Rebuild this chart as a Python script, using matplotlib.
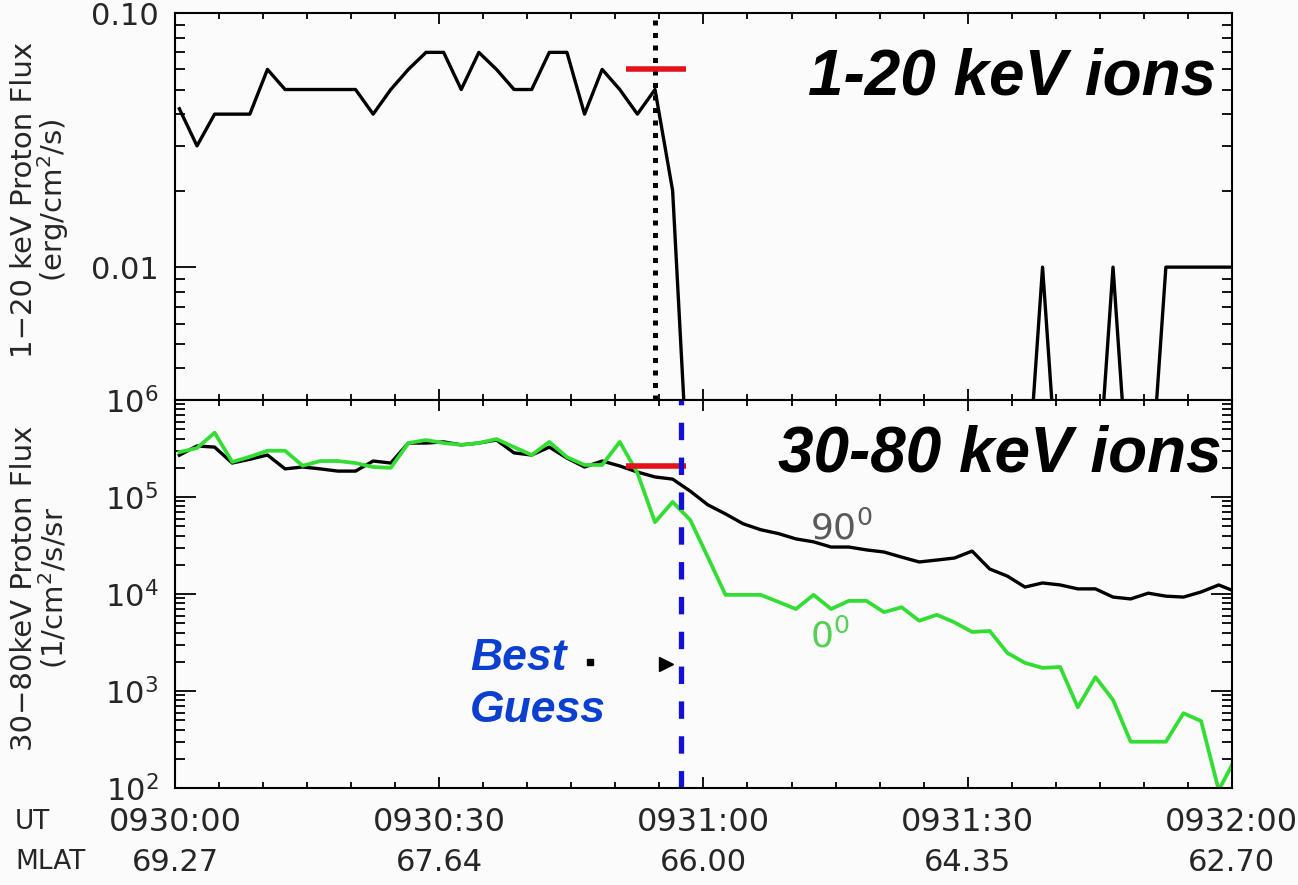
import matplotlib
matplotlib.use("Agg")
import matplotlib.pyplot as plt
from matplotlib.ticker import FixedLocator, FixedFormatter, LogLocator, NullFormatter, MultipleLocator

plt.rcParams['font.family'] = ['DejaVu Sans']
plt.rcParams['mathtext.fontset'] = 'dejavusans'

# seconds after 09:30:00 UT (2 s samples)
sample_t = [0.5, 2.5, 4.5, 6.5, 8.5, 10.5, 12.5, 14.5, 16.5, 18.5,
            20.5, 22.5, 24.5, 26.5, 28.5, 30.5, 32.5, 34.5, 36.5, 38.5,
            40.5, 42.5, 44.5, 46.5, 48.5, 50.5, 52.5, 54.5, 56.5, 58.5,
            60.5, 62.5, 64.5, 66.5, 68.5, 70.5, 72.5, 74.5, 76.5, 78.5,
            80.5, 82.5, 84.5, 86.5, 88.5, 90.5, 92.5, 94.5, 96.5, 98.5,
            100.5, 102.5, 104.5, 106.5, 108.5, 110.5, 112.5, 114.5, 116.5, 118.5,
            120.5]

# 1-20 keV proton energy flux (erg/cm2/s); 0.001 = below range
low_flux = [0.042, 0.03, 0.04, 0.04, 0.04, 0.06, 0.05, 0.05, 0.05, 0.05,
            0.05, 0.04, 0.05, 0.06, 0.07, 0.07, 0.05, 0.07, 0.06, 0.05,
            0.05, 0.07, 0.07, 0.04, 0.06, 0.05, 0.04, 0.05, 0.02, 0.001,
            0.001, 0.001, 0.001, 0.001, 0.001, 0.001, 0.001, 0.001, 0.001, 0.001,
            0.001, 0.001, 0.001, 0.001, 0.001, 0.001, 0.001, 0.001, 0.001, 0.01,
            0.001, 0.001, 0.001, 0.01, 0.001, 0.001, 0.01, 0.01, 0.01, 0.01,
            0.01]

# 30-80 keV proton flux, 90 deg and 0 deg pitch angle
flux_90 = [2.7e5, 3.36e5, 3.27e5, 2.24e5, 2.45e5, 2.71e5, 1.95e5, 2.04e5, 1.95e5, 1.85e5,
           1.85e5, 2.35e5, 2.24e5, 3.6e5, 3.6e5, 3.7e5, 3.45e5, 3.6e5, 3.87e5, 2.85e5,
           2.71e5, 3.27e5, 2.52e5, 2.04e5, 2.35e5, 2.09e5, 1.81e5, 1.61e5, 1.53e5, 1.15e5,
           8.3e4, 6.7e4, 5.3e4, 4.6e4, 4.2e4, 3.7e4, 3.45e4, 3.05e4, 3.05e4, 2.85e4,
           2.71e4, 2.4e4, 2.14e4, 2.24e4, 2.35e4, 2.77e4, 1.81e4, 1.53e4, 1.18e4, 1.3e4,
           1.24e4, 1.13e4, 1.13e4, 9.3e3, 8.9e3, 1.02e4, 9.5e3, 9.3e3, 1.05e4, 1.24e4,
           1.05e4]
flux_0 = [2.9e5, 3.2e5, 4.6e5, 2.3e5, 2.6e5, 3.0e5, 3.0e5, 2.1e5, 2.35e5, 2.35e5,
          2.24e5, 2.04e5, 2.0e5, 3.6e5, 3.87e5, 3.6e5, 3.45e5, 3.6e5, 3.96e5, 3.27e5,
          2.71e5, 3.7e5, 2.58e5, 2.14e5, 2.14e5, 3.7e5, 1.77e5, 5.5e4, 8.9e4, 5.8e4,
          2.4e4, 9.8e3, 9.8e3, 9.8e3, 8.3e3, 7.0e3, 9.8e3, 7.0e3, 8.5e3, 8.5e3,
          6.5e3, 7.3e3, 5.3e3, 6.1e3, 5.1e3, 4.06e3, 4.16e3, 2.47e3, 1.95e3, 1.73e3,
          1.77e3, 6.8e2, 1.39e3, 8.1e2, 3.0e2, 3.0e2, 3.0e2, 5.9e2, 4.9e2, 9.5e1,
          2.1e2]

# markers
obs_t = 54.5          # dotted line (top)
guess_t = 57.5        # best guess (blue dashed)
red_span = [51.2, 58.0]
red_low = 0.06
red_high = 2.1e5

tick_t = [0, 30, 60, 90, 120]
ut_labels = ['0930:00', '0930:30', '0931:00', '0931:30', '0932:00']
mlat_labels = ['69.27', '67.64', '66.00', '64.35', '62.70']

bg = '#fbfbfb'
fig = plt.figure(figsize=(12.98, 8.85), dpi=100, facecolor=bg)
ax1 = fig.add_axes([0.1348, 0.548, 0.8143, 0.4373], facecolor=bg)
ax2 = fig.add_axes([0.1348, 0.1096, 0.8143, 0.4384], facecolor=bg)

tick_col = '#262626'
for ax in (ax1, ax2):
    ax.set_xlim(0, 120)
    ax.set_yscale('log')
    ax.xaxis.set_major_locator(FixedLocator(tick_t))
    ax.xaxis.set_minor_locator(MultipleLocator(5))
    ax.tick_params(axis='both', which='both', direction='in', top=True, right=True,
                   width=1.3, colors='black', labelcolor=tick_col, labelsize=22)
    ax.tick_params(axis='x', which='major', length=8)
    ax.tick_params(axis='x', which='minor', length=4)
    ax.tick_params(axis='y', which='major', length=15, pad=12)
    ax.tick_params(axis='y', which='minor', length=7)
    ax.set_xticklabels([])
    for s in ax.spines.values():
        s.set_linewidth(1.5)

# top panel
ax1.plot(sample_t, low_flux, color='black', lw=2.4)
ax1.set_ylim(0.003, 0.1)
ax1.yaxis.set_major_locator(FixedLocator([0.01, 0.1]))
ax1.yaxis.set_major_formatter(FixedFormatter(['0.01', '0.10']))
ax1.yaxis.set_minor_locator(LogLocator(base=10, subs=range(2, 10)))
ax1.yaxis.set_minor_formatter(NullFormatter())
ax1.axvline(obs_t, color='black', lw=3.6, linestyle=(0, (1, 1.5)), dash_capstyle='butt')
ax1.hlines(red_low, red_span[0], red_span[1], color='#e3121b', lw=4)
ax1.text(0.985, 0.79, '1-20 keV ions', transform=ax1.transAxes, ha='right', va='baseline',
         fontsize=46, fontweight='bold', fontstyle='italic', family='Liberation Sans')

# bottom panel
ax2.plot(sample_t, flux_90, color='black', lw=2.4)
ax2.plot(sample_t, flux_0, color='#33dd33', lw=2.7)
ax2.set_ylim(1e2, 1e6)
ax2.yaxis.set_major_locator(FixedLocator([1e2, 1e3, 1e4, 1e5, 1e6]))
ax2.yaxis.set_major_formatter(FixedFormatter([r'10$^{2}$', r'10$^{3}$', r'10$^{4}$',
                                              r'10$^{5}$', r'10$^{6}$']))
ax2.yaxis.set_minor_locator(LogLocator(base=10, subs=range(2, 10)))
ax2.yaxis.set_minor_formatter(NullFormatter())
ax2.hlines(red_high, red_span[0], red_span[1], color='#e3121b', lw=4)
ax2.axvline(guess_t, color='#1010d8', lw=3.8, linestyle=(0, (3.3, 3.3)), dash_capstyle='butt')
ax2.text(0.99, 0.815, '30-80 keV ions', transform=ax2.transAxes, ha='right', va='baseline',
         fontsize=46, fontweight='bold', fontstyle='italic', family='Liberation Sans')
ax2.text(0.601, 0.64, r'90$^{0}$', transform=ax2.transAxes, ha='left', va='baseline',
         fontsize=26, color='#5a5a5a')
ax2.text(0.601, 0.362, r'0$^{0}$', transform=ax2.transAxes, ha='left', va='baseline',
         fontsize=26, color='#55d055')
ax2.text(0.279, 0.305, 'Best', transform=ax2.transAxes, ha='left', va='baseline',
         fontsize=32, fontweight='bold', fontstyle='italic', color='#0a3fd0',
         family='Liberation Sans')
ax2.text(0.279, 0.171, 'Guess', transform=ax2.transAxes, ha='left', va='baseline',
         fontsize=32, fontweight='bold', fontstyle='italic', color='#0a3fd0',
         family='Liberation Sans')
ax2.plot([0.393], [0.325], marker='s', ms=4, color='black', transform=ax2.transAxes)
ax2.plot([0.465], [0.320], marker='>', ms=10, color='black', transform=ax2.transAxes)

# x labels (UT / MLAT rows)
for t, ut, ml in zip(tick_t, ut_labels, mlat_labels):
    ax2.text(t, -0.088, ut, transform=ax2.get_xaxis_transform(), ha='center', va='center',
             fontsize=23, color=tick_col)
    ax2.text(t, -0.191, ml, transform=ax2.get_xaxis_transform(), ha='center', va='center',
             fontsize=22, color=tick_col)
fig.text(0.0116, 1 - 822 / 885, 'UT', ha='left', va='center', fontsize=19, color=tick_col)
fig.text(0.0116, 1 - 862 / 885, 'MLAT', ha='left', va='center', fontsize=19, color=tick_col)

# y labels
fig.text(24 / 1298, 1 - 200 / 885, '1\u221220 keV Proton Flux', rotation=90,
         ha='center', va='center', fontsize=21, color=tick_col)
fig.text(53 / 1298, 1 - 200 / 885, '(erg/cm$^{2}$/s)', rotation=90,
         ha='center', va='center', fontsize=21, color=tick_col)
fig.text(24 / 1298, 1 - 588 / 885, '30\u221280keV Proton Flux', rotation=90,
         ha='center', va='center', fontsize=21, color=tick_col)
fig.text(53 / 1298, 1 - 588 / 885, '(1/cm$^{2}$/s/sr', rotation=90,
         ha='center', va='center', fontsize=21, color=tick_col)

fig.savefig('out.png', dpi=100, facecolor=bg)
